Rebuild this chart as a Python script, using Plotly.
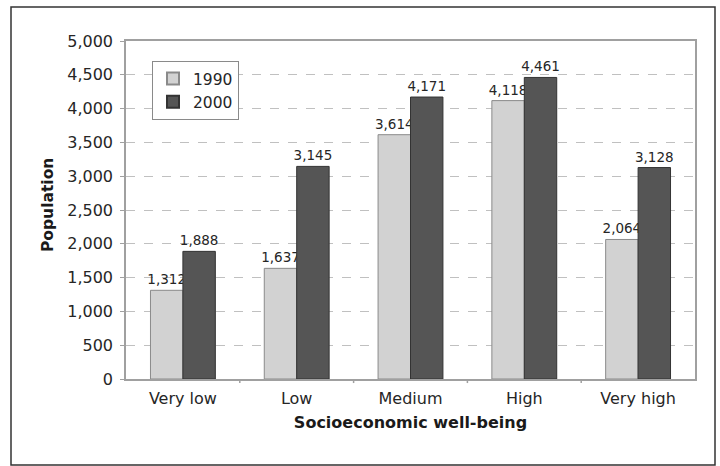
import plotly.graph_objects as go

categories = ["Very low", "Low", "Medium", "High", "Very high"]
pop_1990 = [1312, 1637, 3614, 4118, 2064]
pop_2000 = [1888, 3145, 4171, 4461, 3128]
y_ticks = [0, 500, 1000, 1500, 2000, 2500, 3000, 3500, 4000, 4500, 5000]

FONT = "DejaVu Sans, Arial, sans-serif"
TXT = "#262626"

fig = go.Figure()
fig.add_trace(go.Bar(
    name="1990", x=categories, y=pop_1990,
    marker=dict(color="#d2d2d2", line=dict(color="#8a8a8a", width=1)),
    texttemplate="%{y:,}", textposition="outside", cliponaxis=False,
    constraintext="none",
    textfont=dict(family=FONT, size=13.5, color=TXT),
))
fig.add_trace(go.Bar(
    name="2000", x=categories, y=pop_2000,
    marker=dict(color="#555555", line=dict(color="#333333", width=1)),
    texttemplate="%{y:,}", textposition="outside", cliponaxis=False,
    constraintext="none",
    textfont=dict(family=FONT, size=13.5, color=TXT),
))

W, H = 720, 466
L, R, T, B = 126, 25, 41, 87
pw, ph = W - L - R, H - T - B

def px_x(x):
    return (x - L) / pw

def px_y(y):
    return (H - B - y) / ph

fig.update_layout(
    width=W, height=H,
    margin=dict(l=L, r=R, t=T, b=B),
    paper_bgcolor="white", plot_bgcolor="white",
    font=dict(family=FONT, size=16, color=TXT),
    barmode="group", bargap=0.43, bargroupgap=0,
    showlegend=True,
    legend=dict(
        x=px_x(152), y=px_y(61), xanchor="left", yanchor="top",
        bordercolor="#8a8a8a", borderwidth=1, bgcolor="white",
        font=dict(family=FONT, size=15.5, color=TXT),
        itemsizing="constant", tracegroupgap=0, itemwidth=30,
    ),
    xaxis=dict(
        title=dict(text="<b>Socioeconomic well-being</b>", standoff=10,
                   font=dict(family=FONT, size=16, color="#1a1a1a")),
        showline=True, linecolor="#a0a0a0", linewidth=1.5, mirror=True,
        ticks="", showgrid=False, ticklabelstandoff=4,
        tickfont=dict(family=FONT, size=16, color=TXT),
    ),
    yaxis=dict(
        range=[0, 5000], tickvals=y_ticks, tickformat=",d",
        showline=True, linecolor="#a0a0a0", linewidth=1.5, mirror=True,
        ticks="outside", ticklen=4, tickcolor="#a0a0a0",
        ticklabelstandoff=4,
        showgrid=True, gridcolor="#c0c0c0", griddash="dash", gridwidth=1,
        zeroline=False,
        tickfont=dict(family=FONT, size=16, color=TXT),
    ),
    annotations=[dict(
        text="<b>Population</b>", textangle=-90, showarrow=False,
        xref="paper", yref="paper", x=px_x(48), y=px_y(205),
        xanchor="center", yanchor="middle",
        font=dict(family=FONT, size=15.5, color="#1a1a1a"),
    )],
    shapes=[dict(
        type="rect", xref="paper", yref="paper",
        x0=px_x(11), x1=px_x(715), y0=px_y(465), y1=px_y(7),
        line=dict(color="#333333", width=1.5), layer="below",
    )],
)

# small tick marks between the category groups on the x axis
for i in range(1, len(categories)):
    fig.add_shape(type="line", xref="x", yref="paper",
                  x0=i - 0.5, x1=i - 0.5, y0=0, y1=-0.012,
                  line=dict(color="#a0a0a0", width=1.5))

fig.write_html("out.html")
